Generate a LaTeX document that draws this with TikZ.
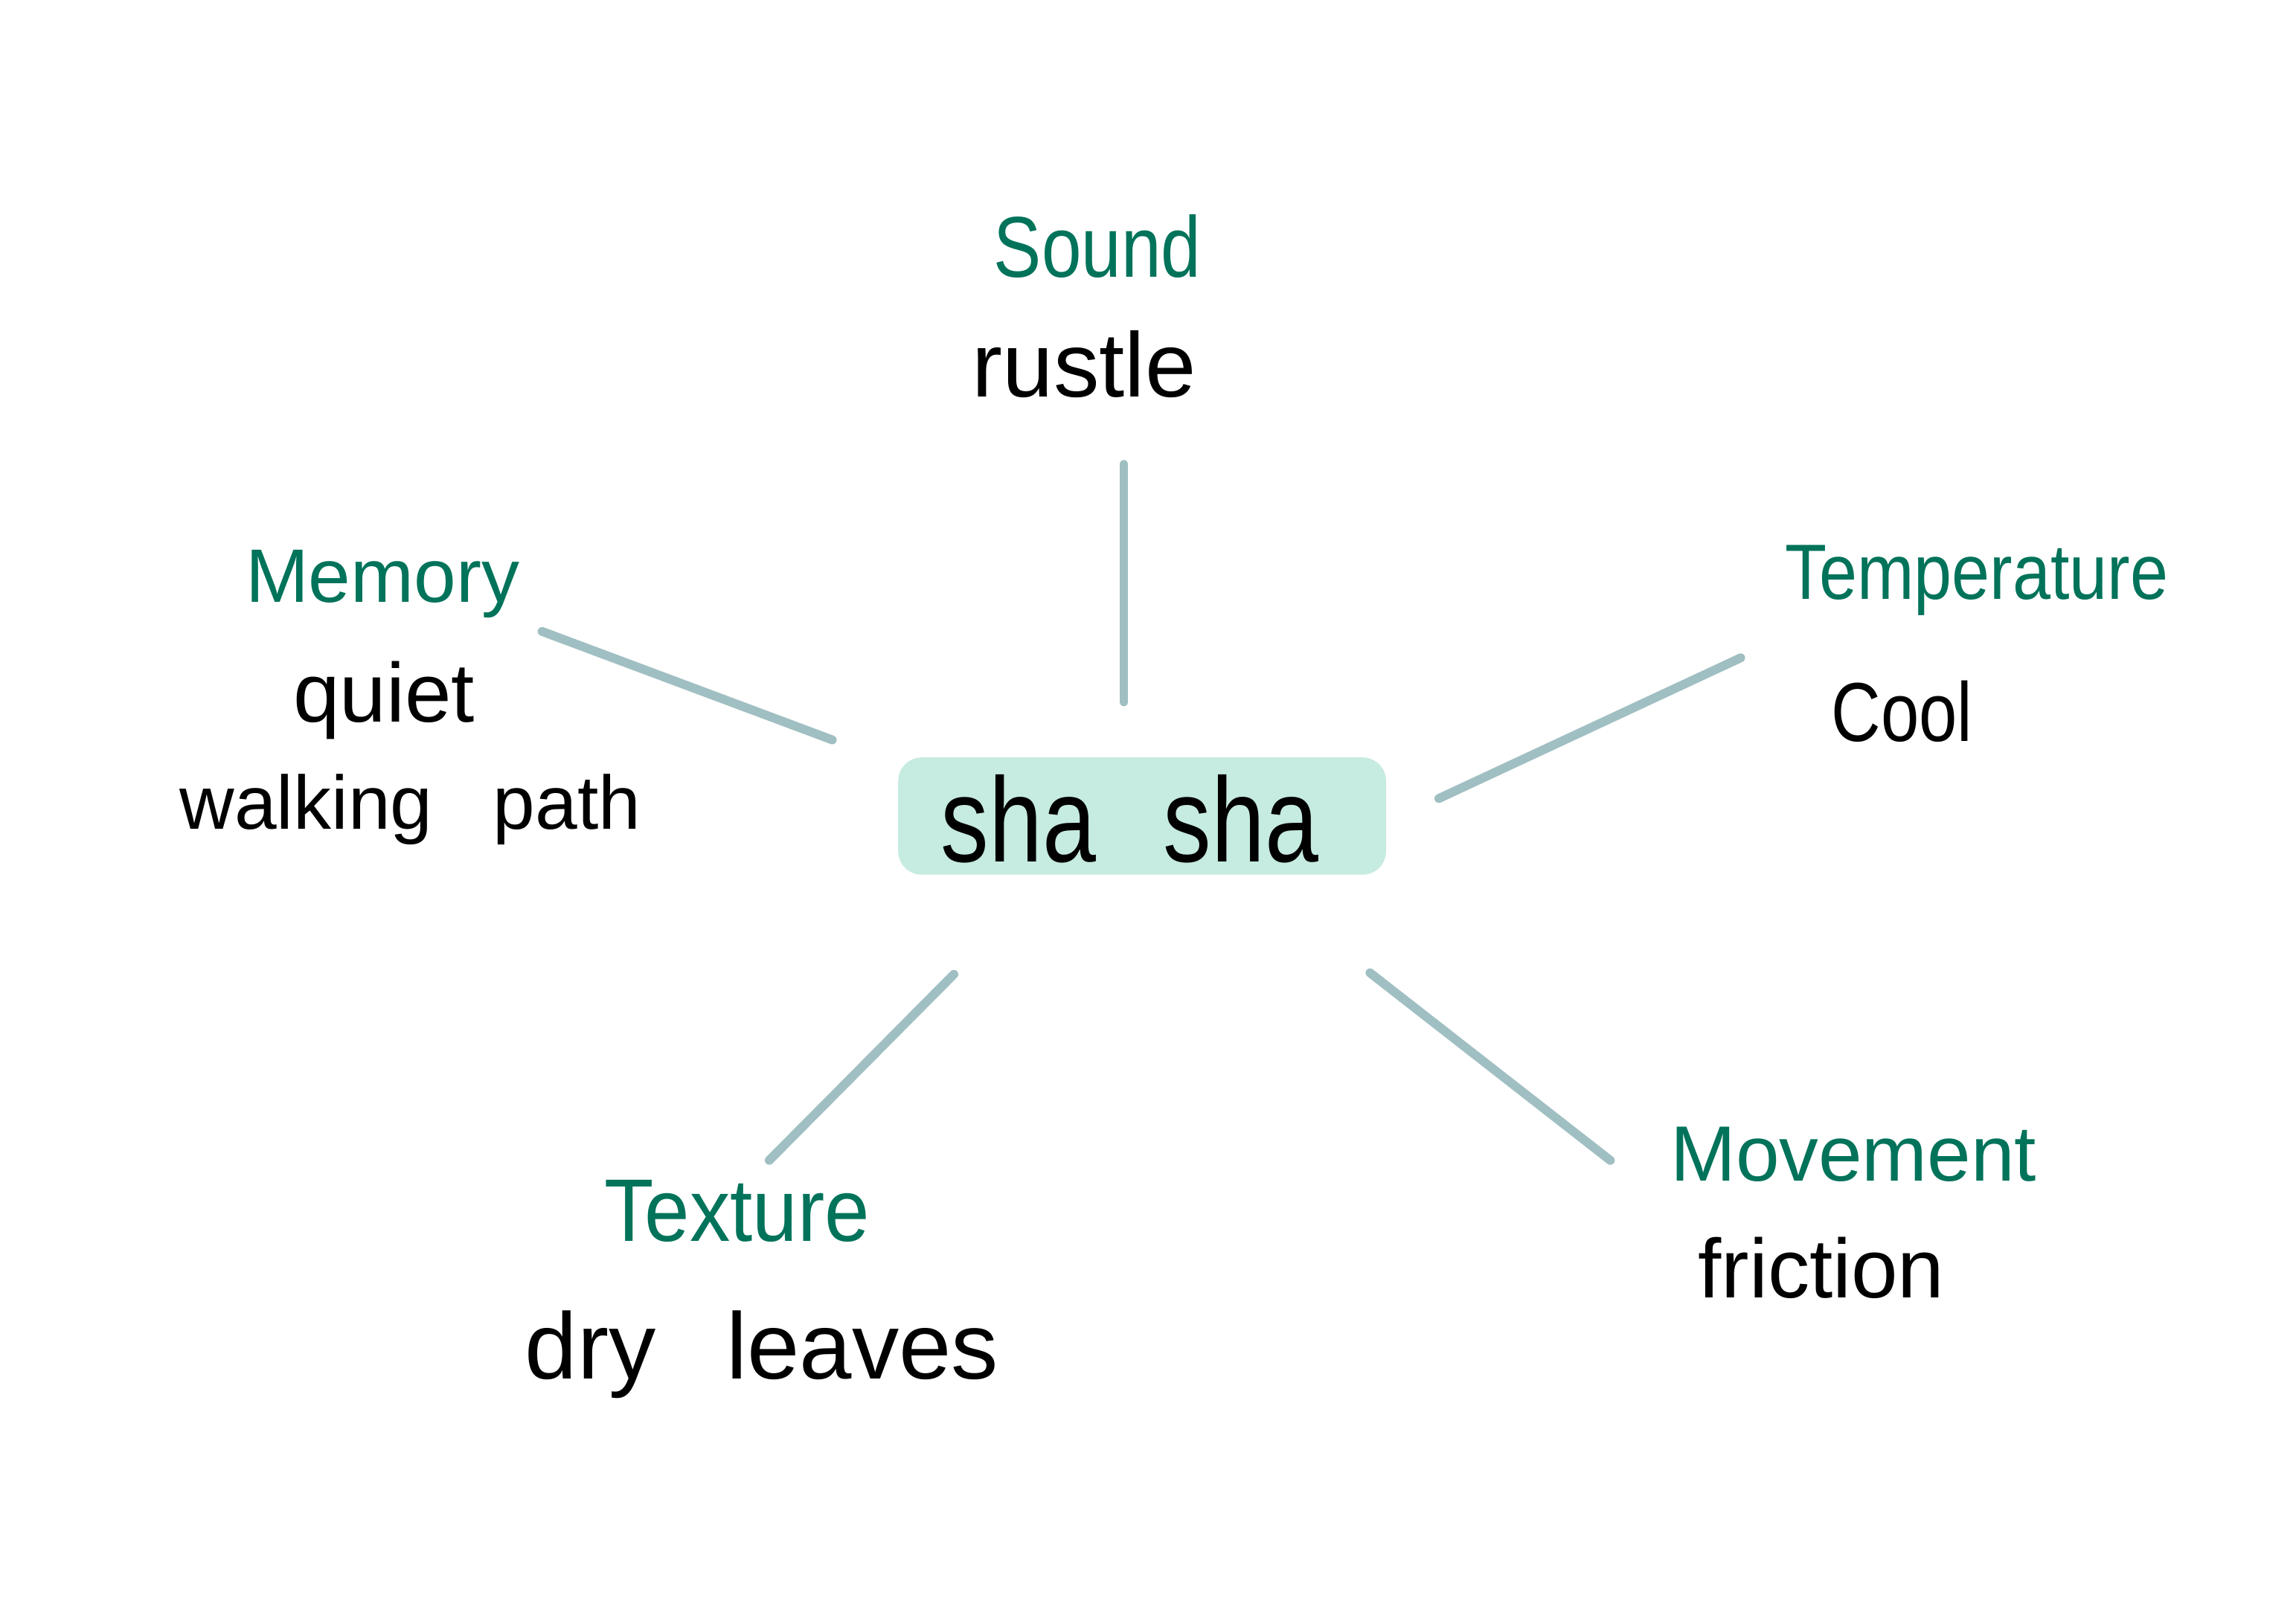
\documentclass[tikz,border=0pt]{standalone}
\usepackage{fontspec}
\setmainfont{Liberation Sans}
\definecolor{boxfill}{HTML}{C6EBE0}
\definecolor{linkcol}{HTML}{A0BFC2}
\definecolor{headcol}{HTML}{00735A}
\newcommand{\hstretch}[2]{\scalebox{#1}[1]{#2}}
\newcommand{\fsz}[1]{\fontsize{#1}{#1}\selectfont}
\begin{document}
\begin{tikzpicture}[x=0.019694cm,y=-0.019694cm,
  head/.style={text=headcol,anchor=base,inner sep=0pt},
  word/.style={text=black,anchor=base,inner sep=0pt},
  link/.style={draw=linkcol,line width=3.4pt,line cap=round}]
\useasboundingbox[fill=white] (0,0) rectangle (1567,1108);
% centre
\node[fill=boxfill,rounded corners=9pt,minimum width=333*0.019694cm,minimum height=80*0.019694cm,inner sep=0pt] (c) at (779.5,557) {};
\node[word,font=\fsz{46}] (cs) at (771,588) {\hstretch{0.8}{sha\hspace{0.7em}sha}};
% labels
\node[head,font=\fsz{33}] (sound) at (749,189) {\hstretch{0.83}{Sound}};
\node[word,font=\fsz{35}] (rustle) at (740,271) {rustle};
\node[head,font=\fsz{29}] (memory) at (261,411) {Memory};
\node[word,font=\fsz{32}] (quiet) at (262,493) {quiet};
\node[word,font=\fsz{29}] (walk) at (280,566) {walking\hspace{0.8em}path};
\node[head,font=\fsz{30}] (temp) at (1349,409) {\hstretch{0.87}{Temperature}};
\node[word,font=\fsz{32}] (cool) at (1298,506) {\hstretch{0.82}{Cool}};
\node[head,font=\fsz{34}] (texture) at (503,847) {\hstretch{0.91}{Texture}};
\node[word,font=\fsz{36}] (dry) at (520,941) {dry\hspace{0.75em}leaves};
\node[head,font=\fsz{30}] (move) at (1265,806) {Movement};
\node[word,font=\fsz{32}] (fric) at (1243,886) {friction};
% connector ends
\coordinate (s1) at (767,317);  \coordinate (s2) at (767,479);
\coordinate (m1) at (370,431);  \coordinate (m2) at (568,505);
\coordinate (t1) at (1188,449); \coordinate (t2) at (982,545);
\coordinate (x1) at (651,665);  \coordinate (x2) at (525,792);
\coordinate (v1) at (935,664);  \coordinate (v2) at (1099,792);
\draw[link] (s1) -- (s2);
\draw[link] (m1) -- (m2);
\draw[link] (t1) -- (t2);
\draw[link] (x1) -- (x2);
\draw[link] (v1) -- (v2);
\end{tikzpicture}
\end{document}
